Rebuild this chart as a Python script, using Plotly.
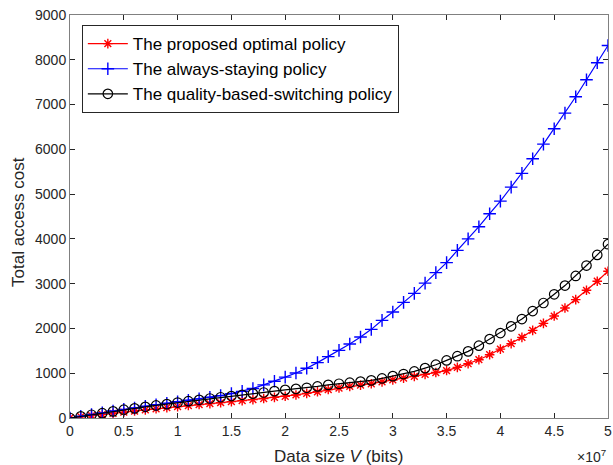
import plotly.graph_objects as go

data_size = [i * 1e6 for i in range(51)]

optimal = [0, 28, 55, 80, 105, 130, 155, 180, 205, 230, 255, 278, 300, 322, 343, 365, 387, 410, 435, 460,
           485, 515, 550, 585, 635, 670, 705, 735, 765, 805, 850, 890, 930, 975, 1015, 1060, 1130, 1212, 1302, 1414,
           1539, 1660, 1801, 1957, 2114, 2277, 2456, 2644, 2852, 3054, 3277]

always_staying = [0, 40, 78, 115, 155, 192, 225, 262, 295, 328, 362, 395, 428, 462, 500, 545, 595, 660, 740, 820,
                  912, 1005, 1110, 1237, 1371, 1511, 1652, 1808, 1980, 2181, 2366, 2583, 2783, 3013, 3246, 3469, 3743, 4000, 4272, 4562,
                  4844, 5156, 5462, 5790, 6116, 6460, 6808, 7174, 7553, 7933, 8319]

quality_switching = [0, 38, 73, 108, 148, 185, 215, 250, 280, 310, 345, 376, 406, 435, 463, 490, 518, 545, 570, 600,
                     628, 650, 675, 705, 740, 765, 788, 812, 840, 884, 935, 982, 1040, 1114, 1190, 1286, 1380, 1488, 1615, 1763,
                     1897, 2047, 2210, 2389, 2568, 2763, 2957, 3172, 3405, 3642, 3881]

x_tickvals = [i * 5e6 for i in range(11)]
x_ticktext = ["0", "0.5", "1", "1.5", "2", "2.5", "3", "3.5", "4", "4.5", "5"]
y_tickvals = [i * 1000 for i in range(10)]

font_family = "Liberation Sans, Arial, sans-serif"
text_color = "#262626"

fig = go.Figure()
fig.add_trace(go.Scatter(
    x=data_size, y=optimal, mode="lines+markers", name="The proposed optimal policy",
    line=dict(color="#ff0000", width=1.2),
    marker=dict(symbol="asterisk-open", size=8, color="#ff0000", line=dict(color="#ff0000", width=1.4))))
fig.add_trace(go.Scatter(
    x=data_size, y=always_staying, mode="lines+markers", name="The always-staying policy",
    line=dict(color="#0000ff", width=1.2),
    marker=dict(symbol="cross-thin-open", size=9, color="#0000ff", line=dict(color="#0000ff", width=1.4))))
fig.add_trace(go.Scatter(
    x=data_size, y=quality_switching, mode="lines+markers", name="The quality-based-switching policy",
    line=dict(color="#000000", width=1.2),
    marker=dict(symbol="circle-open", size=9.5, color="#000000", line=dict(color="#000000", width=1.2))))

axis_common = dict(showline=True, linecolor="#808080", linewidth=1, mirror="ticks",
                   ticks="inside", ticklen=5, tickcolor="#262626", showgrid=False, zeroline=False,
                   ticklabeloverflow="allow", automargin=False,
                   tickfont=dict(family=font_family, size=14, color=text_color))

fig.update_xaxes(range=[0, 5e7], tickvals=x_tickvals, ticktext=x_ticktext, **axis_common)
fig.update_yaxes(range=[0, 9000], tickvals=y_tickvals, **axis_common)

fig.add_annotation(text="Data size <i>V</i> (bits)", xref="paper", yref="paper", x=0.499, y=-0.095,
                   xanchor="center", yanchor="middle", showarrow=False,
                   font=dict(family=font_family, size=17, color=text_color))
fig.add_annotation(text="Total access cost", xref="paper", yref="paper", x=-0.097, y=0.486,
                   xanchor="center", yanchor="middle", textangle=-90, showarrow=False,
                   font=dict(family=font_family, size=17, color=text_color))
fig.add_annotation(text="×10<sup>7</sup>", xref="paper", yref="paper", x=1.0, y=-0.095,
                   xanchor="right", yanchor="middle", showarrow=False,
                   font=dict(family=font_family, size=14, color=text_color))

fig.update_layout(
    width=613, height=465,
    margin=dict(l=70, r=5, t=15, b=47),
    paper_bgcolor="white", plot_bgcolor="white",
    font=dict(family=font_family, color=text_color),
    legend=dict(x=0.022, y=0.975, xanchor="left", yanchor="top",
                bgcolor="white", bordercolor="#262626", borderwidth=1,
                font=dict(family=font_family, size=17, color="#000000"),
                tracegroupgap=0, itemwidth=40),
    showlegend=True,
)

fig.write_html("out.html",
               config={"displayModeBar": False},
               post_script="document.body.style.margin='0';document.body.style.padding='0';document.body.style.overflow='hidden';")
